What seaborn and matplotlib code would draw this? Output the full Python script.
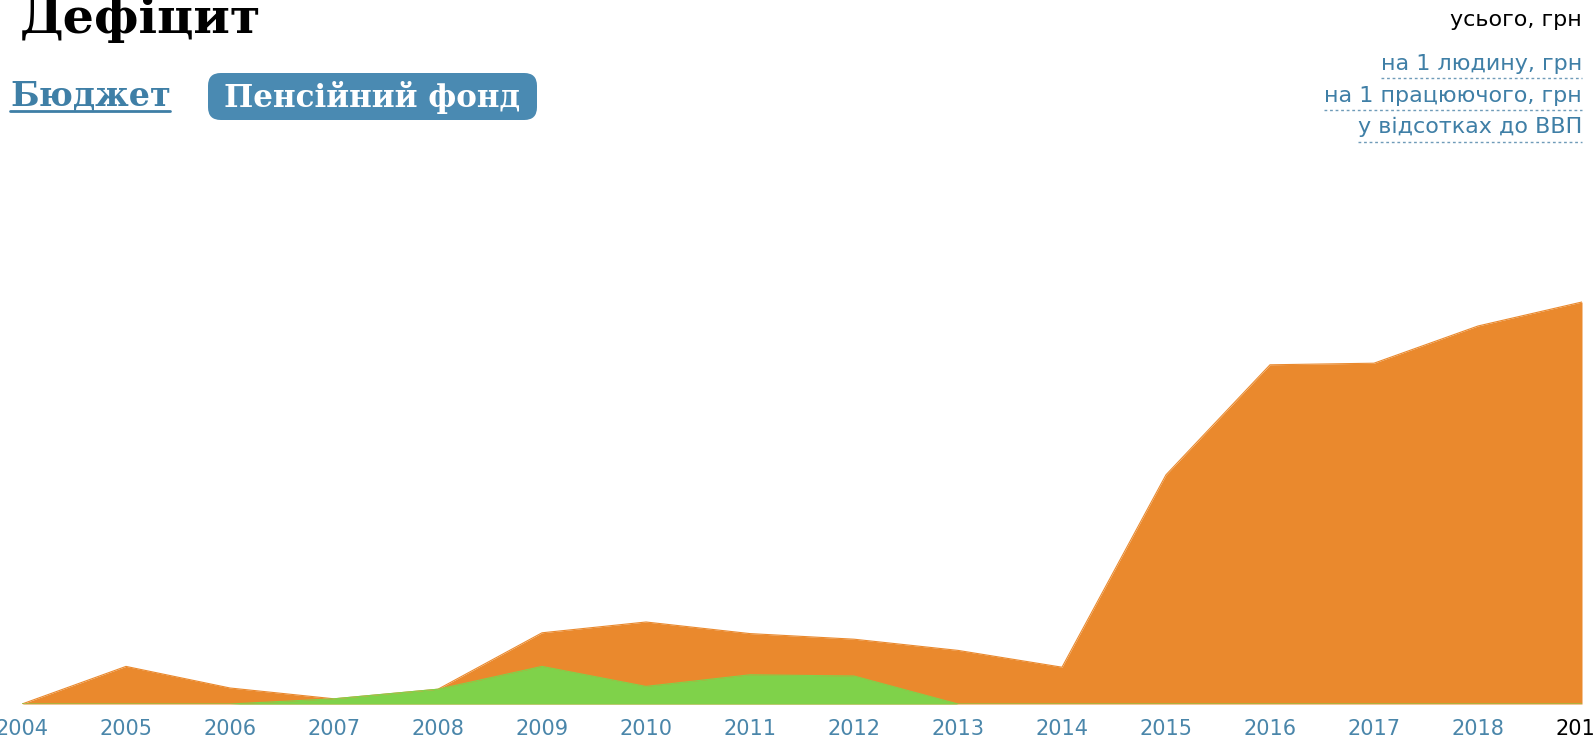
import matplotlib
matplotlib.use("Agg")
import matplotlib.pyplot as plt
import seaborn as sns
from matplotlib.patches import FancyBboxPatch

# Data (billions UAH approx.)
years = list(range(2004, 2020))
deficit_orange = [0, 9.4, 4.0, 1.3, 3.7, 17.8, 20.5, 17.6, 16.2, 13.4, 9.2, 57.3, 84.8, 85.2, 94.5, 100.5]
deficit_green = [0, 0, 0, 1.3, 3.7, 9.4, 4.4, 7.3, 7.0, 0, 0, 0, 0, 0, 0, 0]
year_labels = [str(y) for y in years]

tabs = ["Бюджет", "Пенсійний фонд"]
units = ["усього, грн", "на 1 людину, грн", "на 1 працюючого, грн", "у відсотках до ВВП"]

ORANGE = "#EA892D"
GREEN = "#7FD24A"
BLUE = "#4A8AB2"
LINK = "#3F7FA6"

W, H = 1593, 746

sns.set_theme(style="white")
plt.rcParams["font.family"] = ["DejaVu Sans"]

fig = plt.figure(figsize=(W / 100, H / 100), dpi=100)
fig.patch.set_facecolor("white")


def fx(px):
    return px / W


def fy(py):
    return 1 - py / H


# Chart area
ax = fig.add_axes([fx(22), fy(704), (1582 - 22) / W, (704 - 250) / H])
ax.set_facecolor("white")

ax.fill_between(years, deficit_orange, color=ORANGE, lw=0)
sns.lineplot(x=years, y=deficit_orange, color=ORANGE, lw=0.8, ax=ax)
ax.fill_between(years, deficit_green, color=GREEN, lw=0)
sns.lineplot(x=years, y=deficit_green, color=GREEN, lw=0.8, ax=ax)

ax.set_xlim(2004, 2019)
ax.set_ylim(0, 113.5)
ax.set_yticks([])
ax.set_xticks(years)
ax.set_xticklabels(year_labels, fontsize=15, color="#4A86AA")
ax.get_xticklabels()[-1].set_color("black")
ax.tick_params(axis="x", length=0, pad=11)
for s in ax.spines.values():
    s.set_visible(False)
ax.set_xlabel("")
ax.set_ylabel("")

# Title
fig.text(fx(20), fy(33), "Дефіцит", fontsize=35.5, fontweight="bold",
         family="DejaVu Serif", color="black", va="baseline", ha="left")

# Tabs
fig.text(fx(10), fy(106), tabs[0], fontsize=24, fontweight="bold",
         family="DejaVu Serif", color=LINK, va="baseline", ha="left")
fig.add_artist(plt.Line2D([fx(10), fx(170)], [fy(111), fy(111)],
                          color=LINK, lw=2, transform=fig.transFigure))

box = FancyBboxPatch((fx(208), fy(120)), (537 - 208) / W, (120 - 73) / H,
                     boxstyle="round,pad=0,rounding_size=0.008",
                     transform=fig.transFigure, facecolor=BLUE, edgecolor="none",
                     mutation_aspect=W / H)
fig.add_artist(box)
fig.text(fx(372), fy(97), tabs[1], fontsize=22.3, fontweight="bold",
         family="DejaVu Serif", color="white", va="center", ha="center")

# Unit switches
fig.text(fx(1582), fy(20), units[0], fontsize=16, color="black",
         va="center", ha="right")

renderer = fig.canvas.get_renderer()
for label, yc, yu in zip(units[1:], [64, 96, 127], [78, 110, 142]):
    t = fig.text(fx(1582), fy(yc), label, fontsize=16, color=LINK,
                 va="center", ha="right")
    bb = t.get_window_extent(renderer=renderer)
    fig.add_artist(plt.Line2D([bb.x0 / W, fx(1582)], [fy(yu), fy(yu)],
                              color="#6F9BB8", lw=1, ls=(0, (2, 2)),
                              transform=fig.transFigure))

fig.savefig("out.png", dpi=100, facecolor="white")
